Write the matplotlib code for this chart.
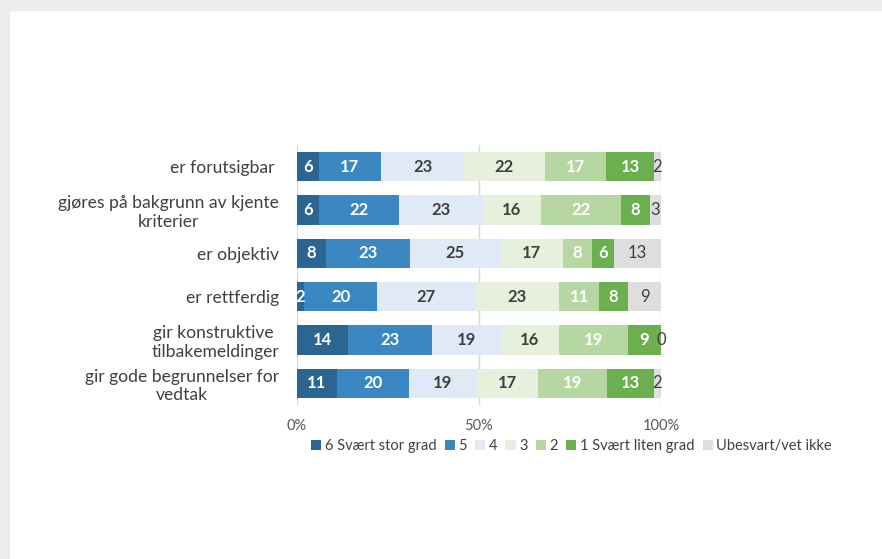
import numpy as np
import matplotlib.pyplot as plt
from matplotlib.patches import Rectangle

# Data
statements = [
    "er forutsigbar ",
    "gjøres på bakgrunn av kjente\nkriterier",
    "er objektiv",
    "er rettferdig",
    "gir konstruktive \ntilbakemeldinger",
    "gir gode begrunnelser for\nvedtak",
]
categories = ["6 Svært stor grad", "5", "4", "3", "2", "1 Svært liten grad", "Ubesvart/vet ikke"]
grad_6 = [6, 6, 8, 2, 14, 11]
grad_5 = [17, 22, 23, 20, 23, 20]
grad_4 = [23, 23, 25, 27, 19, 19]
grad_3 = [22, 16, 17, 23, 16, 17]
grad_2 = [17, 22, 8, 11, 19, 19]
grad_1 = [13, 8, 6, 8, 9, 13]
ubesvart = [2, 3, 13, 9, 0, 2]
x_ticks = [0, 50, 100]
x_ticklabels = ["0%", "50%", "100%"]

colors = ["#2b6591", "#3a87c1", "#dfeaf6", "#e6f0dd", "#b6d7a1", "#6baf4f", "#dedede"]
text_colors = ["white", "white", "#404040", "#404040", "white", "white", "#404040"]
weights = ["bold"] * 6 + ["normal"]

plt.rcParams["font.family"] = ["Lato", "DejaVu Sans"]

series = np.array([grad_6, grad_5, grad_4, grad_3, grad_2, grad_1, ubesvart], dtype=float)
shares = series / series.sum(axis=0) * 100  # 100% stacked

fig = plt.figure(figsize=(8.82, 5.59), dpi=100)
# light grey frame on top / left edge of the screenshot
fig.patches.append(Rectangle((0, 0), 9 / 882, 1, transform=fig.transFigure, color="#ededeb", zorder=0))
fig.patches.append(Rectangle((0, 1 - 10 / 559), 1, 10 / 559, transform=fig.transFigure, color="#ededeb", zorder=0))

ax = fig.add_axes([297 / 882, 1 - 405 / 559, 364 / 882, 260 / 559])
y = np.arange(len(statements))
left = np.zeros(len(statements))
for i, cat in enumerate(categories):
    ax.barh(y, shares[i], left=left, height=0.67, color=colors[i], label=cat, zorder=2)
    for j in range(len(statements)):
        ax.text(left[j] + shares[i, j] / 2, y[j], f"{int(series[i, j])}",
                ha="center", va="center", color=text_colors[i],
                fontsize=12, fontweight=weights[i], zorder=3)
    left += shares[i]

ax.set_xlim(0, 100)
ax.set_ylim(len(statements) - 0.5, -0.5)
ax.set_xticks(x_ticks)
ax.set_xticklabels(x_ticklabels, color="#595959", fontsize=10.5)
ax.tick_params(axis="x", length=0, pad=10)
ax.tick_params(axis="y", length=0, pad=13)
ax.set_yticks(y)
ax.set_yticklabels(statements, fontsize=12.6, color="#404040", multialignment="center", linespacing=1.2)
ax.grid(axis="x", color="#d9d9d9", linewidth=1, zorder=0)
for s in ax.spines.values():
    s.set_visible(False)

fig.legend(loc="center", bbox_to_anchor=(571.5 / 882, 1 - 446 / 559), ncol=7, frameon=False,
           fontsize=10.5, handlelength=0.7, handleheight=0.7, handletextpad=0.25,
           columnspacing=0.55, labelcolor="#404040")

fig.savefig("out.png", dpi=100)
